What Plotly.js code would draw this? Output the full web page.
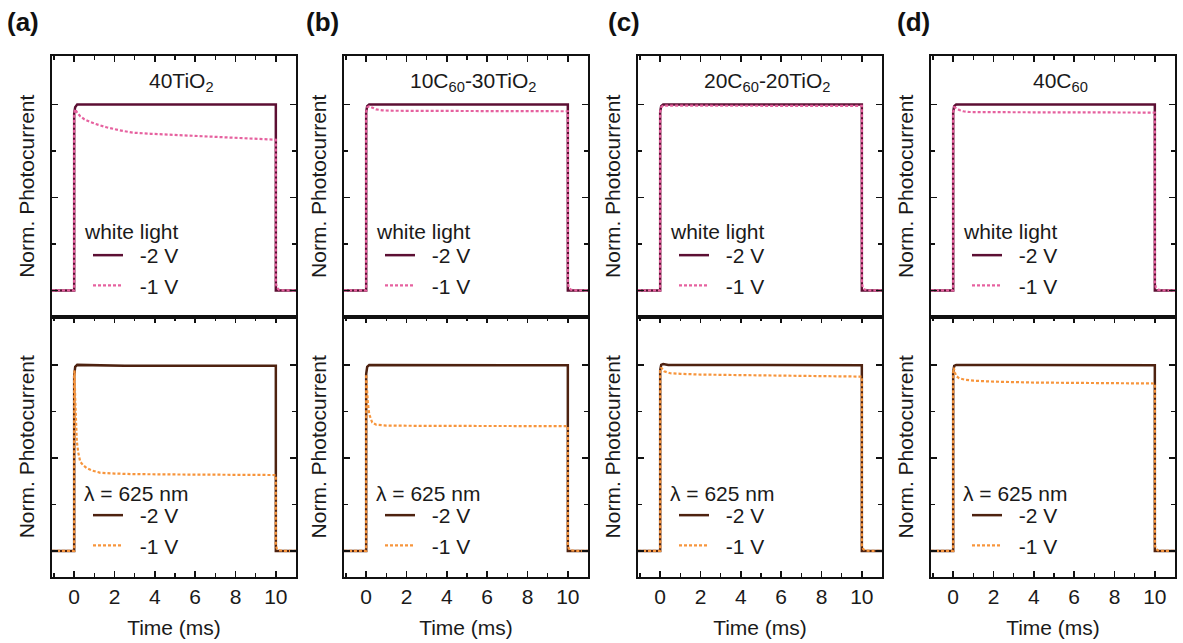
<!DOCTYPE html>
<html>
<head>
<meta charset="utf-8">
<script src="https://cdn.plot.ly/plotly-3.0.1.min.js"></script>
<style>html,body{margin:0;padding:0;background:#fff;}#chart{width:1183px;height:643px;}</style>
</head>
<body>
<div id="chart"></div>
<script>
// ---------- data ----------
const panelLabels = ['(a)', '(b)', '(c)', '(d)'];
const sampleNames = ['40TiO<sub>2</sub>', '10C<sub>60</sub>-30TiO<sub>2</sub>', '20C<sub>60</sub>-20TiO<sub>2</sub>', '40C<sub>60</sub>'];
const topLegendTitle = 'white light';
const bottomLegendTitle = 'λ = 625 nm';
const seriesNames = ['-2 V', '-1 V'];
const xTickVals = [0, 2, 4, 6, 8, 10];

// (a) 40TiO2
const t_a_top_2V = [-1.1, 0, 0, 0.05, 0.15, 10, 10, 11];
const y_a_top_2V = [0, 0, 0.95, 0.985, 1.0, 1.0, 0, 0];
const t_a_top_1V = [-1.1, 0, 0, 0.05, 0.15, 0.3, 0.5, 0.8, 1.2, 1.6, 2.2, 2.9, 3.8, 4.6, 5.5, 6.2, 7.0, 7.9, 9.0, 10, 10, 10.05, 10.15, 10.4, 11];
const y_a_top_1V = [0, 0, 0.95, 0.975, 0.955, 0.936, 0.92, 0.905, 0.89, 0.877, 0.862, 0.848, 0.842, 0.838, 0.833, 0.829, 0.825, 0.82, 0.815, 0.81, 0.04, 0.015, 0.004, 0, 0];
const t_a_bot_2V = [-1.1, 0, 0, 0.05, 0.15, 2.5, 10, 10, 11];
const y_a_bot_2V = [0, 0, 0.94, 0.99, 1.0, 0.995, 0.995, 0, 0];
const t_a_bot_1V = [-1.1, 0, 0, 0.02, 0.05, 0.1, 0.13, 0.2, 0.3, 0.45, 0.63, 0.9, 1.3, 2, 2.9, 5, 7, 10, 10, 10.05, 10.15, 10.4, 11];
const y_a_bot_1V = [0, 0, 0.95, 0.97, 0.82, 0.66, 0.59, 0.53, 0.48, 0.46, 0.445, 0.432, 0.42, 0.416, 0.413, 0.411, 0.41, 0.408, 0.03, 0.012, 0.003, 0, 0];

// (b) 10C60-30TiO2
const t_b_top_2V = [-1.1, 0, 0, 0.05, 0.15, 10, 10, 11];
const y_b_top_2V = [0, 0, 0.96, 0.99, 1.0, 1.0, 0, 0];
const t_b_top_1V = [-1.1, 0, 0, 0.05, 0.15, 0.3, 0.5, 0.8, 1.2, 3, 6, 10, 10, 10.05, 10.15, 10.4, 11];
const y_b_top_1V = [0, 0, 0.96, 0.985, 0.99, 0.982, 0.973, 0.968, 0.966, 0.965, 0.964, 0.963, 0.04, 0.015, 0.004, 0, 0];
const t_b_bot_2V = [-1.1, 0, 0, 0.05, 0.15, 10, 10, 11];
const y_b_bot_2V = [0, 0, 0.95, 0.99, 1.0, 0.998, 0, 0];
const t_b_bot_1V = [-1.1, 0, 0, 0.03, 0.08, 0.15, 0.3, 0.5, 1, 3, 10, 10, 10.05, 10.15, 10.4, 11];
const y_b_bot_1V = [0, 0, 0.95, 0.88, 0.8, 0.735, 0.69, 0.678, 0.674, 0.672, 0.671, 0.03, 0.012, 0.003, 0, 0];

// (c) 20C60-20TiO2
const t_c_top_2V = [-1.1, 0, 0, 0.05, 0.15, 10, 10, 11];
const y_c_top_2V = [0, 0, 0.96, 0.99, 1.0, 1.0, 0, 0];
const t_c_top_1V = [-1.1, 0, 0, 0.05, 0.15, 10, 10, 10.05, 10.15, 10.4, 11];
const y_c_top_1V = [0, 0, 0.96, 0.985, 0.993, 0.992, 0.04, 0.015, 0.004, 0, 0];
const t_c_bot_2V = [-1.1, 0, 0, 0.05, 0.15, 0.4, 10, 10, 11];
const y_c_bot_2V = [0, 0, 0.97, 1.0, 1.005, 1.0, 0.998, 0, 0];
const t_c_bot_1V = [-1.1, 0, 0, 0.05, 0.2, 0.5, 1, 2, 4, 6, 8, 10, 10, 10.05, 10.15, 10.4, 11];
const y_c_bot_1V = [0, 0, 0.97, 0.985, 0.965, 0.955, 0.952, 0.948, 0.945, 0.942, 0.94, 0.937, 0.03, 0.012, 0.003, 0, 0];

// (d) 40C60
const t_d_top_2V = [-1.1, 0, 0, 0.05, 0.15, 10, 10, 11];
const y_d_top_2V = [0, 0, 0.96, 0.99, 1.0, 1.0, 0, 0];
const t_d_top_1V = [-1.1, 0, 0, 0.05, 0.15, 0.3, 0.5, 0.8, 2, 5, 10, 10, 10.05, 10.15, 10.4, 11];
const y_d_top_1V = [0, 0, 0.96, 0.985, 0.98, 0.97, 0.963, 0.959, 0.958, 0.957, 0.956, 0.04, 0.015, 0.004, 0, 0];
const t_d_bot_2V = [-1.1, 0, 0, 0.05, 0.15, 10, 10, 11];
const y_d_bot_2V = [0, 0, 0.96, 0.995, 1.0, 0.998, 0, 0];
const t_d_bot_1V = [-1.1, 0, 0, 0.03, 0.08, 0.15, 0.3, 0.6, 1, 2, 4, 7, 10, 10, 10.05, 10.15, 10.4, 11];
const y_d_bot_1V = [0, 0, 0.96, 0.985, 0.96, 0.94, 0.928, 0.92, 0.915, 0.91, 0.905, 0.902, 0.9, 0.03, 0.012, 0.003, 0, 0];

// ---------- styling ----------
const FONT = 'Liberation Sans, Arial, sans-serif';
const TXT = '#1a1a1a';
const FS = 21;
const colTop2 = '#5c0f33', colTop1 = '#e6619f';
const colBot2 = '#4e2210', colBot1 = '#f7953c';
const W = 1183, H = 643, ML = 52, MR = 8, MT = 56, MB = 66;
const PW = W - ML - MR, PH = H - MT - MB;
const colPx = [[52, 296], [344, 588], [638, 882], [931, 1175]];
const labelPx = [5, 304, 606, 895];
const doms = colPx.map(p => [(p[0] - ML) / PW, (p[1] - ML) / PW]);
const px2x = px => (px - ML) / PW;
const px2y = py => 1 - (py - MT) / PH;

const panels = [
  {top: [[t_a_top_2V, y_a_top_2V], [t_a_top_1V, y_a_top_1V]], bot: [[t_a_bot_2V, y_a_bot_2V], [t_a_bot_1V, y_a_bot_1V]]},
  {top: [[t_b_top_2V, y_b_top_2V], [t_b_top_1V, y_b_top_1V]], bot: [[t_b_bot_2V, y_b_bot_2V], [t_b_bot_1V, y_b_bot_1V]]},
  {top: [[t_c_top_2V, y_c_top_2V], [t_c_top_1V, y_c_top_1V]], bot: [[t_c_bot_2V, y_c_bot_2V], [t_c_bot_1V, y_c_bot_1V]]},
  {top: [[t_d_top_2V, y_d_top_2V], [t_d_top_1V, y_d_top_1V]], bot: [[t_d_bot_2V, y_d_bot_2V], [t_d_bot_1V, y_d_bot_1V]]}
];

const traces = [];
const layout = {
  width: W, height: H,
  margin: {l: ML, r: MR, t: MT, b: MB},
  paper_bgcolor: '#ffffff', plot_bgcolor: '#ffffff',
  font: {family: FONT, size: FS, color: TXT},
  annotations: [],
  showlegend: true
};

function yAxis(dom, anchor) {
  return {
    domain: dom, anchor: anchor, range: [-0.14, 1.26],
    showline: true, mirror: 'ticks', linecolor: '#111', linewidth: 2,
    ticks: 'inside', ticklen: 6, tickwidth: 1.5, tickcolor: '#111',
    tickvals: [0, 0.5, 1], showticklabels: false,
    minor: {tickvals: [0.25, 0.75], ticks: 'inside', ticklen: 4, tickwidth: 1.2, tickcolor: '#111'},
    showgrid: false, zeroline: false, fixedrange: true,
    title: {text: 'Norm. Photocurrent', font: {size: FS, color: TXT}, standoff: 10}
  };
}

panels.forEach((p, c) => {
  const nT = 2 * c + 1, nB = 2 * c + 2;
  const xT = 'x' + nT, yT = 'y' + nT, xB = 'x' + nB, yB = 'y' + nB;
  const lgT = nT === 1 ? 'legend' : 'legend' + nT;
  const lgB = 'legend' + nB;
  const rows = [
    {data: p.top, x: xT, y: yT, lg: lgT, cols: [colTop2, colTop1]},
    {data: p.bot, x: xB, y: yB, lg: lgB, cols: [colBot2, colBot1]}
  ];
  rows.forEach(r => {
    r.data.forEach((d, i) => {
      traces.push({
        type: 'scatter', mode: 'lines', x: d[0], y: d[1],
        xaxis: r.x, yaxis: r.y, legend: r.lg, legendgroup: r.lg + '_' + i,
        name: '\u00a0\u00a0' + seriesNames[i],
        line: {color: r.cols[i], width: i === 0 ? 2.5 : 2.2, dash: i === 0 ? 'solid' : '3px,2px'},
        hoverinfo: 'skip'
      });
    });
  });

  const common = {
    domain: doms[c], range: [-1.1, 11],
    showline: true, linecolor: '#111', linewidth: 2,
    ticks: 'inside', ticklen: 6, tickwidth: 1.5, tickcolor: '#111',
    tickvals: xTickVals,
    minor: {dtick: 1, tick0: 0, ticks: 'inside', ticklen: 4, tickwidth: 1.2, tickcolor: '#111'},
    showgrid: false, zeroline: false, fixedrange: true
  };
  layout['xaxis' + nT] = Object.assign({}, common, {anchor: yT, side: 'top', mirror: true, showticklabels: false, matches: xB});
  layout['xaxis' + nB] = Object.assign({}, common, {anchor: yB, side: 'bottom', mirror: 'ticks', showticklabels: true,
    tickfont: {size: FS, color: TXT},
    title: {text: 'Time (ms)', font: {size: FS, color: TXT}, standoff: 13}});
  layout['yaxis' + nT] = yAxis([0.5, 1], xT);
  layout['yaxis' + nB] = yAxis([0, 0.5], xB);

  const legCommon = {
    bgcolor: 'rgba(0,0,0,0)', borderwidth: 0,
    x: px2x(colPx[c][0] + 36), xanchor: 'left', yanchor: 'top',
    font: {size: FS, color: TXT}, tracegroupgap: 0, itemwidth: 30,
    orientation: 'v'
  };
  layout[lgT] = Object.assign({}, legCommon, {y: px2y(235)});
  layout[lgB] = Object.assign({}, legCommon, {y: px2y(495)});

  // legend headings
  layout.annotations.push({
    text: topLegendTitle, xref: 'paper', yref: 'paper',
    x: px2x(colPx[c][0] + 30), y: px2y(231), xanchor: 'left', yanchor: 'middle', showarrow: false,
    font: {size: FS, color: TXT}
  });
  layout.annotations.push({
    text: bottomLegendTitle, xref: 'paper', yref: 'paper',
    x: px2x(colPx[c][0] + 30), y: px2y(493), xanchor: 'left', yanchor: 'middle', showarrow: false,
    font: {size: FS, color: TXT}
  });
  // sample names
  layout.annotations.push({
    text: sampleNames[c], xref: xT + ' domain', yref: yT + ' domain',
    x: 0.53, y: 0.9, xanchor: 'center', yanchor: 'middle', showarrow: false,
    font: {size: FS, color: TXT}
  });
  // panel labels
  layout.annotations.push({
    text: '<b>' + panelLabels[c] + '</b>', xref: 'paper', yref: 'paper',
    x: px2x(labelPx[c]), y: px2y(22), xanchor: 'left', yanchor: 'middle', showarrow: false,
    font: {size: 26, color: '#111'}
  });
});

Plotly.newPlot('chart', traces, layout, {staticPlot: true, displayModeBar: false});
</script>
</body>
</html>
